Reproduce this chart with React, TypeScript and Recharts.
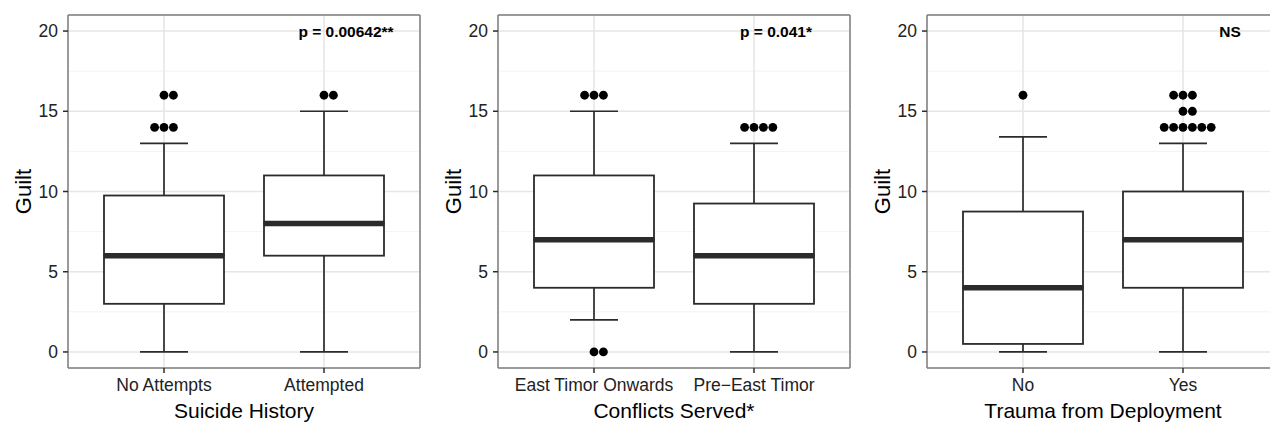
import React from 'react';
import {
  ComposedChart,
  Bar,
  Scatter,
  XAxis,
  YAxis,
  CartesianGrid,
  ReferenceDot,
} from 'recharts';

// y scale shared by all three panels
const yTicks = [0, 5, 10, 15, 20];
const yMinorTicks = [2.5, 7.5, 12.5, 17.5];
const yDomain = [-1, 21];

// Suicide History
const suicideCats = ['No Attempts', 'Attempted'];
const suicideMin = [0, 0];
const suicideQ1 = [3, 6];
const suicideMedian = [6, 8];
const suicideQ3 = [9.75, 11];
const suicideMax = [13, 15];
const suicideOutliers = [[14, 14, 14, 16, 16], [16, 16]];

// Conflicts Served
const conflictCats = ['East Timor Onwards', 'Pre\u2212East Timor'];
const conflictMin = [2, 0];
const conflictQ1 = [4, 3];
const conflictMedian = [7, 6];
const conflictQ3 = [11, 9.25];
const conflictMax = [15, 13];
const conflictOutliers = [[0, 0, 16, 16, 16], [14, 14, 14, 14]];

// Trauma from Deployment
const traumaCats = ['No', 'Yes'];
const traumaMin = [0, 0];
const traumaQ1 = [0.5, 4];
const traumaMedian = [4, 7];
const traumaQ3 = [8.75, 10];
const traumaMax = [13.4, 13];
const traumaOutliers = [[16], [14, 14, 14, 14, 14, 14, 15, 15, 16, 16, 16]];

const xTitles = ['Suicide History', 'Conflicts Served*', 'Trauma from Deployment'];
const pLabels = ['p = 0.00642**', 'p = 0.041*', 'NS'];

const FONT = '"Liberation Sans", Arial, Helvetica, sans-serif';
const INK = '#2b2b2b';
const BORDER = '#7f7f7f';
const PANEL_W = 430;
const PANEL_H = 424;
const DOT_STEP = 9.4;

const buildRows = (cats, mins, q1s, meds, q3s, maxs) =>
  cats.map((cat, i) => ({
    cat,
    base: mins[i],
    lowWhisker: q1s[i] - mins[i],
    lowBox: meds[i] - q1s[i],
    highBox: q3s[i] - meds[i],
    highWhisker: maxs[i] - q3s[i],
  }));

// outliers with the same value sit side by side, like the dodged dots in the original
const buildOutliers = (cats, outliers) => {
  const pts = [];
  cats.forEach((cat, i) => {
    const counts = {};
    outliers[i].forEach((v) => (counts[v] = (counts[v] || 0) + 1));
    const seen = {};
    outliers[i].forEach((v) => {
      const k = seen[v] || 0;
      seen[v] = k + 1;
      pts.push({ cat, value: v, slot: k - Math.floor((counts[v] - 1) / 2) });
    });
  });
  return pts;
};

const LowWhisker = ({ x, y, width, height }) => {
  const cx = x + width / 2;
  const cap = width * 0.2;
  return (
    <g stroke={INK} strokeWidth={1.7}>
      <line x1={cx} x2={cx} y1={y} y2={y + height} />
      <line x1={cx - cap} x2={cx + cap} y1={y + height} y2={y + height} />
    </g>
  );
};

const HighWhisker = ({ x, y, width, height }) => {
  const cx = x + width / 2;
  const cap = width * 0.2;
  return (
    <g stroke={INK} strokeWidth={1.7}>
      <line x1={cx} x2={cx} y1={y} y2={y + height} />
      <line x1={cx - cap} x2={cx + cap} y1={y} y2={y} />
    </g>
  );
};

const LowBox = ({ x, y, width, height }) => (
  <rect x={x} y={y} width={width} height={height} fill="#fff" stroke={INK} strokeWidth={1.8} />
);

const HighBox = ({ x, y, width, height }) => (
  <g>
    <rect x={x} y={y} width={width} height={height} fill="#fff" stroke={INK} strokeWidth={1.8} />
    <line x1={x} x2={x + width} y1={y + height} y2={y + height} stroke={INK} strokeWidth={5.5} />
  </g>
);

const OutlierDot = ({ cx, cy, payload }) => (
  <circle cx={cx + payload.slot * DOT_STEP} cy={cy} r={4.4} fill="#000" />
);

const Panel = ({ left, cats, mins, q1s, meds, q3s, maxs, outliers, title, pLabel, pDx }) => {
  const rows = buildRows(cats, mins, q1s, meds, q3s, maxs);
  const points = buildOutliers(cats, outliers);
  return (
    <div style={{ position: 'absolute', left, top: 0 }}>
      <ComposedChart
        width={PANEL_W}
        height={PANEL_H}
        data={rows}
        margin={{ top: 14, right: 9, left: 0, bottom: 0 }}
      >
        <CartesianGrid
          vertical={false}
          horizontalValues={yMinorTicks}
          stroke="#f3f3f3"
          strokeWidth={1}
        />
        <CartesianGrid stroke="#e6e6e6" strokeWidth={1.6} />
        <XAxis
          dataKey="cat"
          type="category"
          allowDuplicatedCategory={false}
          padding={{ left: 16, right: 16 }}
          height={56}
          axisLine={{ stroke: BORDER, strokeWidth: 1.5 }}
          tickLine={{ stroke: INK, strokeWidth: 1.5 }}
          tickSize={5}
          tickMargin={6}
          interval={0}
          tick={{ fontSize: 17.5, fill: '#222', fontFamily: FONT }}
          label={(p) => (
            <text
              x={p.viewBox.x + p.viewBox.width / 2}
              y={p.viewBox.y + 50}
              textAnchor="middle"
              fontSize={21}
              fontFamily={FONT}
              fill="#000"
            >
              {title}
            </text>
          )}
        />
        <XAxis
          xAxisId="top"
          orientation="top"
          dataKey="cat"
          allowDuplicatedCategory={false}
          height={1}
          tick={false}
          tickLine={false}
          axisLine={{ stroke: BORDER, strokeWidth: 1.5 }}
        />
        <YAxis
          type="number"
          domain={yDomain}
          ticks={yTicks}
          allowDataOverflow
          width={68}
          interval={0}
          axisLine={{ stroke: BORDER, strokeWidth: 1.5 }}
          tickLine={{ stroke: INK, strokeWidth: 1.5 }}
          tickSize={5}
          tickMargin={5}
          tick={{ fontSize: 17.5, fill: '#222', fontFamily: FONT }}
          label={(p) => {
            const cx = p.viewBox.x + 23;
            const cy = p.viewBox.y + p.viewBox.height / 2;
            return (
              <text
                x={cx}
                y={cy}
                transform={`rotate(-90, ${cx}, ${cy})`}
                textAnchor="middle"
                dominantBaseline="central"
                fontSize={22}
                fontFamily={FONT}
                fill="#000"
              >
                Guilt
              </text>
            );
          }}
        />
        <YAxis
          yAxisId="right"
          orientation="right"
          type="number"
          domain={yDomain}
          allowDataOverflow
          width={1}
          tick={false}
          tickLine={false}
          axisLine={{ stroke: BORDER, strokeWidth: 1.5 }}
        />
        <Bar dataKey="base" stackId="box" barSize={120} fill="none" isAnimationActive={false} />
        <Bar dataKey="lowWhisker" stackId="box" barSize={120} shape={LowWhisker} isAnimationActive={false} />
        <Bar dataKey="lowBox" stackId="box" barSize={120} shape={LowBox} isAnimationActive={false} />
        <Bar dataKey="highBox" stackId="box" barSize={120} shape={HighBox} isAnimationActive={false} />
        <Bar dataKey="highWhisker" stackId="box" barSize={120} shape={HighWhisker} isAnimationActive={false} />
        <Scatter data={points} dataKey="value" shape={OutlierDot} isAnimationActive={false} />
        <ReferenceDot
          x={cats[1]}
          y={20}
          r={1}
          fill="none"
          stroke="none"
          label={(p) => (
            <text
              x={p.viewBox.x + p.viewBox.width / 2 + pDx}
              y={p.viewBox.y + p.viewBox.height / 2}
              textAnchor="middle"
              dominantBaseline="central"
              fontSize={15.5}
              fontWeight="bold"
              fontFamily={FONT}
              fill="#000"
            >
              {pLabel}
            </text>
          )}
        />
      </ComposedChart>
    </div>
  );
};

export default function App() {
  return (
    <div
      style={{
        position: 'absolute',
        left: 0,
        top: 0,
        width: 1270,
        height: 424,
        overflow: 'hidden',
        background: '#fff',
        fontFamily: FONT,
      }}
    >
      <Panel
        left={0}
        cats={suicideCats}
        mins={suicideMin}
        q1s={suicideQ1}
        meds={suicideMedian}
        q3s={suicideQ3}
        maxs={suicideMax}
        outliers={suicideOutliers}
        title={xTitles[0]}
        pLabel={pLabels[0]}
        pDx={22}
      />
      <Panel
        left={430}
        cats={conflictCats}
        mins={conflictMin}
        q1s={conflictQ1}
        meds={conflictMedian}
        q3s={conflictQ3}
        maxs={conflictMax}
        outliers={conflictOutliers}
        title={xTitles[1]}
        pLabel={pLabels[1]}
        pDx={22}
      />
      <Panel
        left={859}
        cats={traumaCats}
        mins={traumaMin}
        q1s={traumaQ1}
        meds={traumaMedian}
        q3s={traumaQ3}
        maxs={traumaMax}
        outliers={traumaOutliers}
        title={xTitles[2]}
        pLabel={pLabels[2]}
        pDx={47}
      />
    </div>
  );
}
